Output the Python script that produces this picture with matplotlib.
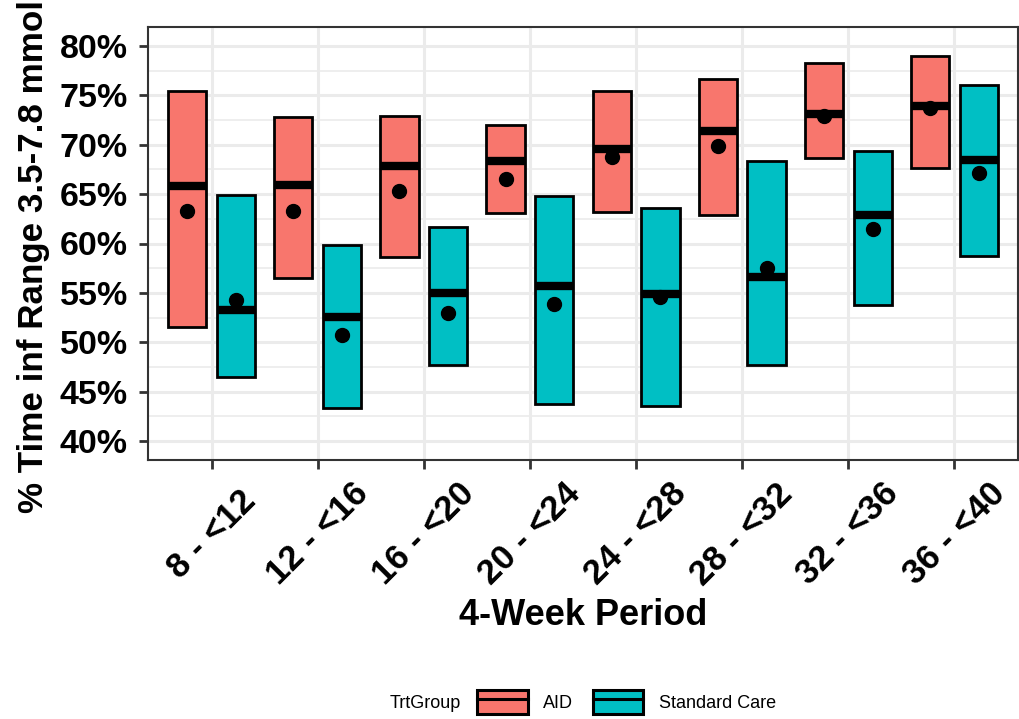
import numpy as np
import matplotlib.pyplot as plt
from matplotlib.patches import Patch
from matplotlib.lines import Line2D
from matplotlib.ticker import MultipleLocator, FuncFormatter

periodos = ["8 - <12", "12 - <16", "16 - <20", "20 - <24",
            "24 - <28", "28 - <32", "32 - <36", "36 - <40"]

# AID
aid_bajo = [51.5, 56.5, 58.6, 63.1, 63.2, 62.9, 68.7, 67.6]
aid_alto = [75.4, 72.8, 72.9, 72.0, 75.4, 76.7, 78.3, 79.0]
aid_mediana = [65.8, 65.9, 67.8, 68.4, 69.6, 71.4, 73.1, 73.9]
aid_media = [63.3, 63.3, 65.3, 66.5, 68.8, 69.9, 72.9, 73.7]

# Standard Care
sc_bajo = [46.5, 43.3, 47.7, 43.8, 43.5, 47.7, 53.8, 58.7]
sc_alto = [64.9, 59.8, 61.7, 64.8, 63.6, 68.4, 69.4, 76.0]
sc_mediana = [53.3, 52.6, 55.0, 55.7, 54.9, 56.6, 62.9, 68.5]
sc_media = [54.3, 50.7, 53.0, 53.9, 54.6, 57.5, 61.5, 67.1]

colorAID = "#F8766D"
colorSC = "#00BFC4"

plt.rcParams['font.family'] = ['Liberation Sans', 'DejaVu Sans']

fig = plt.figure(figsize=(10.2, 7.19), dpi=100)
ax = fig.add_axes([148/1020, 1 - 460/719, 870/1020, 433/719])

x = np.arange(1, len(periodos) + 1)
ancho = 0.36
desp = 0.23

grupos = [
    (aid_bajo, aid_alto, aid_mediana, aid_media, colorAID, -desp),
    (sc_bajo, sc_alto, sc_mediana, sc_media, colorSC, desp),
]
for bajo, alto, mediana, media, color, d in grupos:
    bajo = np.array(bajo)
    alto = np.array(alto)
    xs = x + d
    ax.bar(xs, alto - bajo, bottom=bajo, width=ancho, color=color,
           edgecolor="black", linewidth=2.0, zorder=3)
    ax.hlines(mediana, xs - ancho/2, xs + ancho/2, colors="black",
              linewidth=6, zorder=4)
    ax.plot(xs, media, "o", color="black", markersize=10, zorder=5)

ax.set_xlim(0.4, 8.6)
ax.set_ylim(38.08, 81.92)
ax.set_xticks(x)
ax.set_xticklabels(periodos, rotation=45, ha="center", va="center",
                   fontsize=25, fontweight="bold")
ax.yaxis.set_major_locator(MultipleLocator(5))
ax.yaxis.set_minor_locator(MultipleLocator(2.5))
ax.yaxis.set_major_formatter(FuncFormatter(lambda v, p: "%d%%" % v))
for t in ax.get_yticklabels():
    t.set_fontsize(24.5)
    t.set_fontweight("bold")

ax.grid(True, which="major", color="#EBEBEB", linewidth=2.2, zorder=0)
ax.grid(True, which="minor", axis="y", color="#EBEBEB", linewidth=1.2, zorder=0)
ax.set_axisbelow(True)
ax.tick_params(axis="both", which="major", length=6.5, width=2, color="#333333")
ax.tick_params(axis="x", pad=47)
ax.tick_params(axis="y", pad=8)
ax.tick_params(axis="y", which="minor", length=0)
for s in ax.spines.values():
    s.set_color("#333333")
    s.set_linewidth(1.5)

ax.set_xlabel("4-Week Period", fontsize=26, fontweight="bold")
ax.xaxis.set_label_coords(0.5, -0.318)
ax.xaxis.label.set_va("top")
ax.set_ylabel("% Time inf Range 3.5-7.8 mmol", fontsize=25.2, fontweight="bold")
ax.yaxis.set_label_coords(-0.113, 0.471)

# leyenda abajo
manijas = []
for c in [colorAID, colorSC]:
    manijas.append((Patch(facecolor=c, edgecolor="black", linewidth=2.2),
                    Line2D([], [], color="black", linewidth=2.2)))
fig.text(390/1020, 1 - 703/719, "TrtGroup", fontsize=13, va="center", ha="left")
fig.legend(manijas, ["AID", "Standard Care"], loc="center left",
           bbox_to_anchor=(477/1020, 1 - 702/719), ncol=2, frameon=False,
           fontsize=13, handlelength=2.8, handleheight=1.75,
           handletextpad=0.85, columnspacing=1.1, borderpad=0, borderaxespad=0)

fig.savefig("out.png", dpi=100)
